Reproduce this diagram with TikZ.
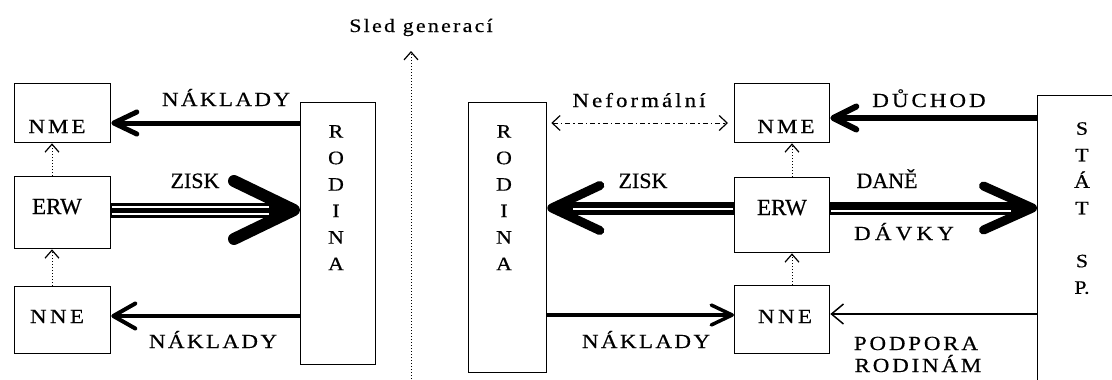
\documentclass[tikz,border=0pt]{standalone}
\usepackage{fontspec}
\setmainfont{Liberation Serif}[FakeBold=0.5]
\newfontfamily\widefont{Liberation Serif}[FakeStretch=1.15,FakeBold=0.5]
\usetikzlibrary{arrows.meta}
\newcommand\spaced[2]{{\addfontfeature{LetterSpace=#1}#2}}
\begin{document}
\begin{tikzpicture}[x=1pt,y=-1pt,
  box/.style={draw,line width=1.3pt,inner sep=0pt,anchor=north west},
  txt/.style={inner sep=0pt,anchor=base,font=\widefont\fontsize{20}{24}\selectfont},
  big/.style={inner sep=0pt,anchor=base,font=\fontsize{22}{26}\selectfont},
  col/.style={inner sep=0pt,anchor=north,align=center,font=\widefont\fontsize{19}{26.5}\selectfont},
  dotarrow/.style={dotted,line width=1pt,-{Straight Barb[length=8pt,width=14pt,line width=1.2pt 0]}},
]
\clip (0,0) rectangle (1112,380);
\fill[white] (0,0) rectangle (1112,380);

% boxes
\node[box,minimum width=96pt,minimum height=59pt] (nmeL) at (14,83) {};
\node[box,minimum width=96pt,minimum height=72pt] (erwL) at (14,176) {};
\node[box,minimum width=96pt,minimum height=67pt] (nneL) at (14,286) {};
\node[box,minimum width=75pt,minimum height=262pt] (rodL) at (300,102) {};
\node[box,minimum width=78pt,minimum height=270pt] (rodR) at (468,102) {};
\node[box,minimum width=95pt,minimum height=59pt] (nmeR) at (734,83) {};
\node[box,minimum width=95pt,minimum height=75pt] (erwR) at (734,177) {};
\node[box,minimum width=95pt,minimum height=68pt] (nneR) at (734,285) {};
\node[box,minimum width=120pt,minimum height=320pt] (stat) at (1037,95) {};

% box texts
\node[txt] (tNmeL) at (57,133) {\spaced{15}{NME}};
\node[big,font=\fontsize{23}{28}\selectfont] (tErwL) at (57,214) {ERW};
\node[txt] (tNneL) at (57,323) {\spaced{17}{NNE}};
\node[txt] (tNmeR) at (786,133) {\spaced{15}{NME}};
\node[big,font=\fontsize{23}{28}\selectfont] (tErwR) at (782,215) {ERW};
\node[txt] (tNneR) at (785,323) {\spaced{17}{NNE}};

\node[col] (tRodL) at (336,125) {R\\O\\D\\I\\N\\A};
\node[col] (tRodR) at (504,125) {R\\O\\D\\I\\N\\A};
\node[col] (tStat) at (1082,122) {S\\T\\Á\\T\\[26.5pt]S\\P.};

% labels
\node[txt,font=\widefont\fontsize{19}{24}\selectfont] (tSled) at (421,32) {\spaced{12}{Sled generací}};
\node[txt] (tNak1) at (226,106) {\spaced{12}{NÁKLADY}};
\node[big] (tZisk1) at (195,188) {ZISK};
\node[txt] (tNak2) at (213,348) {\spaced{12}{NÁKLADY}};
\node[txt] (tNef) at (639,107) {\spaced{15}{Neformální}};
\node[big] (tZisk2) at (643,188) {ZISK};
\node[txt] (tNak3) at (646,348) {\spaced{12}{NÁKLADY}};
\node[txt] (tDuch) at (929,107) {\spaced{15}{DŮCHOD}};
\node[big] (tDane) at (887,188) {DANĚ};
\node[txt] (tDavky) at (904,240) {\spaced{21}{DÁVKY}};
\node[txt] (tPodp) at (916,350) {\spaced{14}{PODPORA}};
\node[txt] (tRodin) at (918,372) {\spaced{14}{RODINÁM}};

% left side arrows
\draw[line width=5pt,-{Straight Barb[length=23pt,width=22pt,round]}] (rodL.west |- 0,123) -- (nmeL.east |- 0,123);
\draw[line width=4pt,-{Straight Barb[length=22pt,width=25pt,round]}] (rodL.west |- 0,316) -- (nneL.east |- 0,316);
\draw[line width=15pt,-{Straight Barb[length=60pt,width=58pt,line width=12pt 0,round]}] (erwL.east |- 0,210) -- (rodL.west |- 0,210);
\draw[white,line width=9pt,shorten <=1pt,shorten >=31pt] (erwL.east |- 0,210) -- (rodL.west |- 0,210);
\draw[line width=5pt,shorten <=1pt,shorten >=31pt] (erwL.east |- 0,210) -- (rodL.west |- 0,210);

% right side arrows
\draw[line width=3.5pt,-{Straight Barb[length=21pt,width=20pt,round]}] (rodR.east |- 0,315) -- (nneR.west |- 0,315);
\draw[line width=6pt,-{Straight Barb[length=23pt,width=23pt,round]}] (stat.west |- 0,118) -- (nmeR.east |- 0,118);
\draw[line width=1.5pt,-{Straight Barb[length=12pt,width=20pt]}] (stat.west |- 0,314) -- (nneR.east |- 0,314);
\draw[line width=13pt,-{Straight Barb[length=48pt,width=45pt,line width=9pt 0,round]}] (erwR.west |- 0,208) -- (rodR.east |- 0,208);
\draw[white,line width=1.5pt,shorten <=1pt,shorten >=26pt] (erwR.west |- 0,209) -- (rodR.east |- 0,209);
\draw[line width=13pt,-{Straight Barb[length=49pt,width=44pt,line width=9pt 0,round]}] (erwR.east |- 0,208) -- (stat.west |- 0,208);
\draw[white,line width=1.5pt,shorten <=1pt,shorten >=26pt] (erwR.east |- 0,211) -- (stat.west |- 0,211);

\draw[line width=0.9pt,dash pattern=on 5pt off 3pt on 1.5pt off 3pt,
  {Straight Barb[length=8pt,width=15pt,line width=1.2pt 0]}-{Straight Barb[length=8pt,width=15pt,line width=1.2pt 0]},
  shorten <=4pt,shorten >=6pt] (rodR.east |- 0,123) -- (nmeR.west |- 0,123);

% dotted arrows
\draw[dotarrow] (nneL.north -| 52,0) -- (erwL.south -| 52,0);
\draw[dotarrow] (erwL.north -| 52,0) -- (nmeL.south -| 52,0);
\draw[dotarrow] (nneR.north -| 792,0) -- (erwR.south -| 792,0);
\draw[dotarrow] (erwR.north -| 792,0) -- (nmeR.south -| 792,0);
\coordinate (sledB) at (411,382);
\coordinate (sledT) at (411,51);
\draw[dotarrow] (sledB) -- (sledT);
\end{tikzpicture}
\end{document}
